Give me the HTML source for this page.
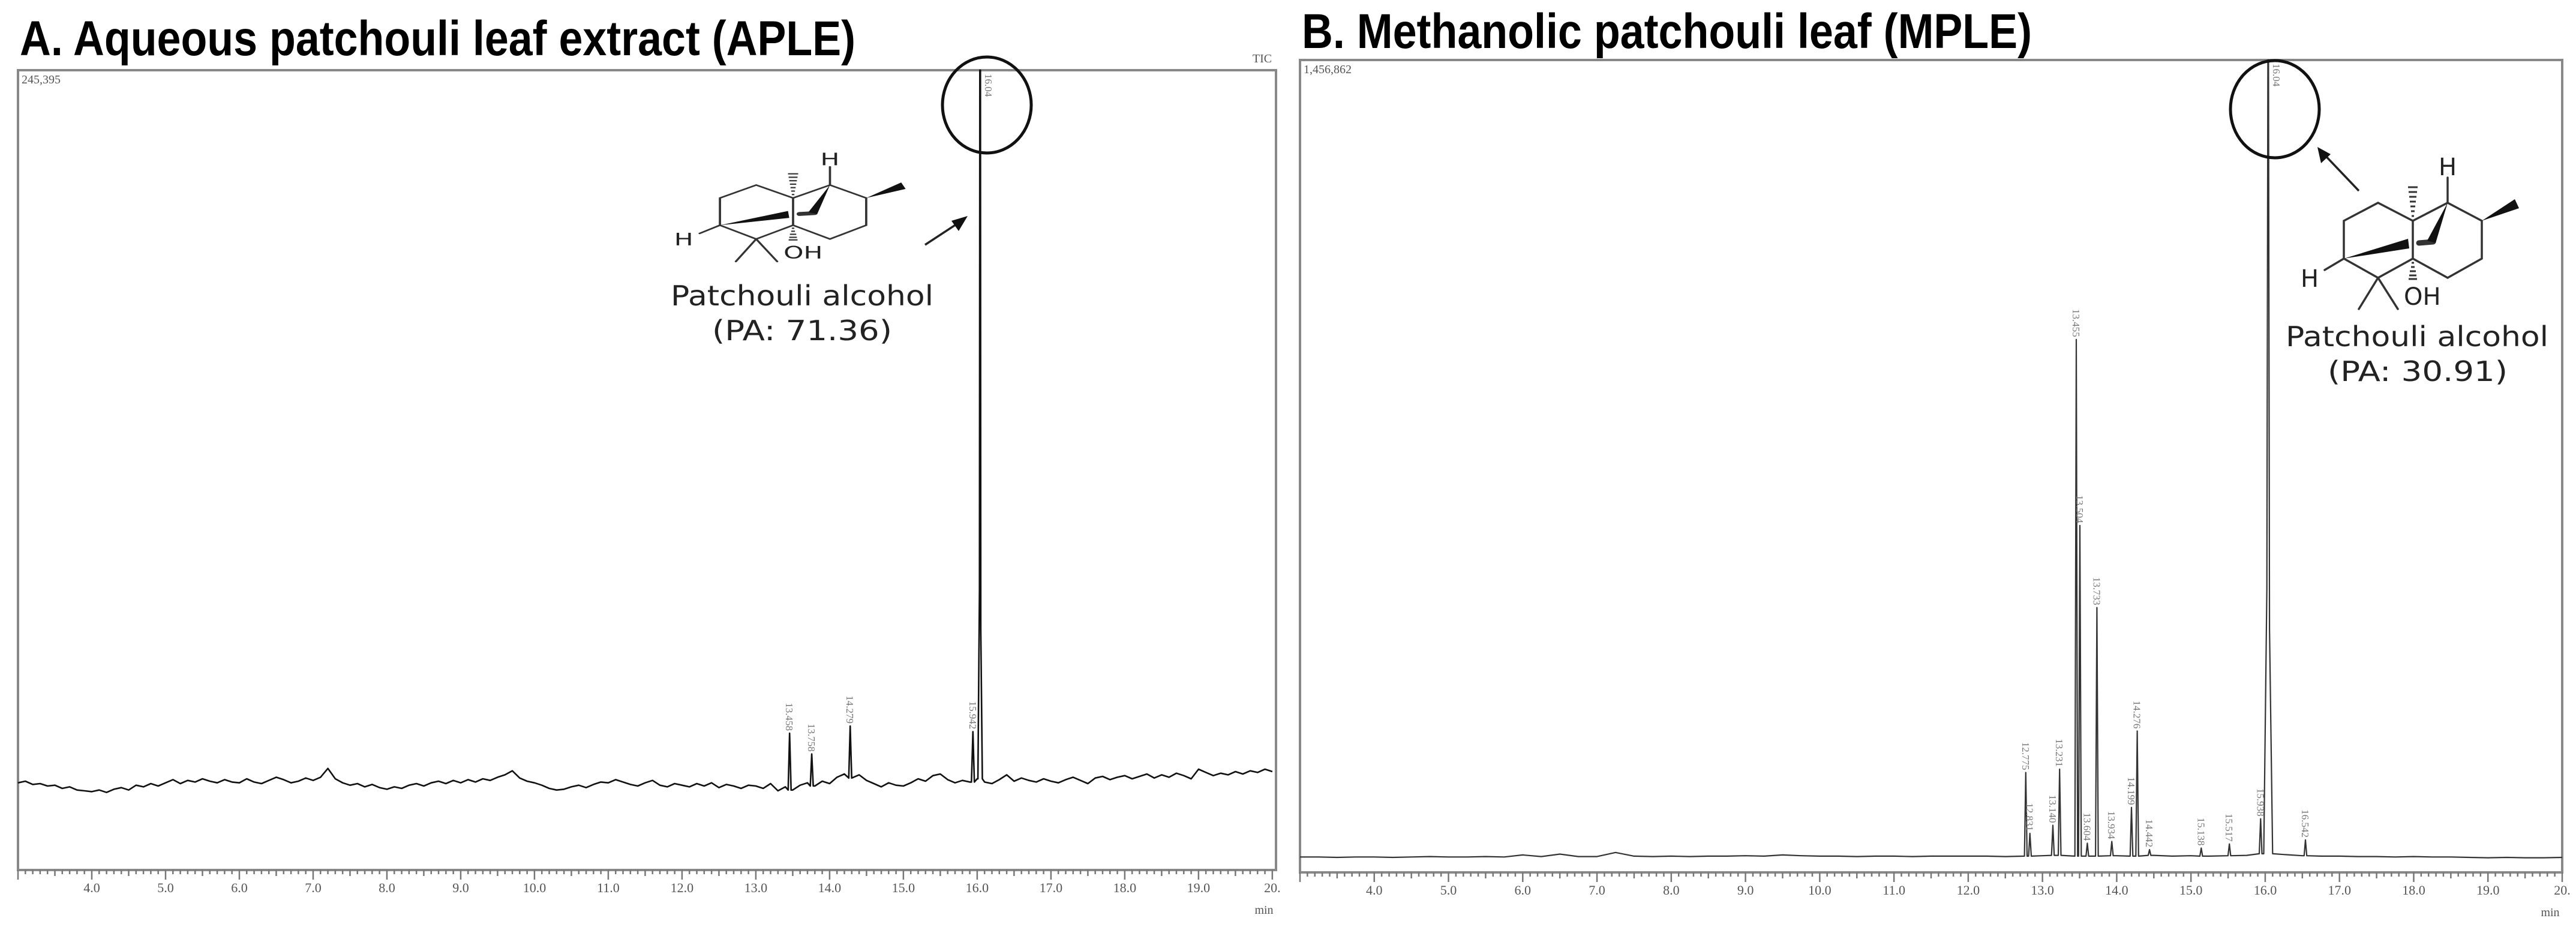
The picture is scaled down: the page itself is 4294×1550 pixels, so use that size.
<!DOCTYPE html>
<html><head><meta charset="utf-8"><style>
html,body{margin:0;padding:0;background:#fff;}
svg{display:block;}
</style></head><body>
<svg id="fig" width="4294" height="1550" viewBox="0 0 4294 1550" xmlns="http://www.w3.org/2000/svg">
<defs>
<g id="mol">
  <g stroke="#333" stroke-width="3.5" fill="none" stroke-linecap="round">
    <polyline points="0,0 -58,-30 -115,0 -115,63 -58,95 0,63 0,0"/>
    <polyline points="0,0 58,-30 115,0 115,63 58,95 0,63"/>
    <line x1="58" y1="-30" x2="58" y2="-72"/>
    <line x1="-58" y1="95" x2="-90" y2="147"/>
    <line x1="-58" y1="95" x2="-25" y2="147"/>
    <line x1="-115" y1="63" x2="-147" y2="82"/>
    <line x1="10" y1="37" x2="34" y2="35" stroke-width="9"/>
  </g>
  <g fill="#111">
    <polygon points="115,0 170,-36 177,-21"/>
    <polygon points="-115,63 -8,30 -6,46"/>
    <polygon points="58,-30 24,33 38,37"/>
  </g>
  <g stroke="#333" stroke-width="3">
    <line x1="-2" y1="-8" x2="2" y2="-8"/><line x1="-3" y1="-16" x2="3" y2="-16"/>
    <line x1="-4" y1="-24" x2="4" y2="-24"/><line x1="-5" y1="-32" x2="5" y2="-32"/>
    <line x1="-6" y1="-40" x2="6" y2="-40"/><line x1="-7" y1="-48" x2="7" y2="-48"/>
    <line x1="-8" y1="-56" x2="8" y2="-56"/>
    <line x1="-2" y1="70" x2="2" y2="70"/><line x1="-3" y1="77" x2="3" y2="77"/>
    <line x1="-5" y1="84" x2="5" y2="84"/><line x1="-6" y1="91" x2="6" y2="91"/>
    <line x1="-7" y1="97" x2="7" y2="97"/>
  </g>
  <g font-family="'DejaVu Sans', sans-serif" font-size="40" fill="#222">
    <text x="58" y="-76" text-anchor="middle">H</text>
    <text x="-172" y="110" text-anchor="middle">H</text>
    <text x="-15" y="140">OH</text>
  </g>
</g>
</defs>

<!-- Titles -->
<text x="33" y="92" font-family="'Liberation Sans', sans-serif" font-weight="bold" font-size="82" textLength="1393" lengthAdjust="spacingAndGlyphs">A. Aqueous patchouli leaf extract (APLE)</text>
<text x="2170" y="80" font-family="'Liberation Sans', sans-serif" font-weight="bold" font-size="82" textLength="1217" lengthAdjust="spacingAndGlyphs">B. Methanolic patchouli leaf (MPLE)</text>

<g id="panelA"></g>
<g id="panelB"></g>

<!-- Panel A annotations -->
<text x="2104" y="104" font-family="'Liberation Serif', serif" font-size="20" fill="#555" text-anchor="middle">TIC</text>
<use href="#mol" transform="translate(1322,330) scale(1.06,0.72)"/>
<text x="1337" y="509" font-family="'DejaVu Sans', sans-serif" font-size="46" fill="#222" text-anchor="middle" textLength="438" lengthAdjust="spacingAndGlyphs">Patchouli alcohol</text>
<text x="1337" y="567" font-family="'DejaVu Sans', sans-serif" font-size="46" fill="#222" text-anchor="middle" textLength="300" lengthAdjust="spacingAndGlyphs">(PA: 71.36)</text>
<g>
  <line x1="1542" y1="408" x2="1600" y2="370" stroke="#222" stroke-width="3.5"/>
  <polygon points="1613,360 1586,368 1598,385" fill="#111"/>
</g>
<ellipse cx="1645" cy="175" rx="74" ry="80" fill="none" stroke="#111" stroke-width="5"/>

<!-- Panel B annotations -->
<use href="#mol" transform="translate(4022,368)"/>
<text x="4029" y="577" font-family="'DejaVu Sans', sans-serif" font-size="46" fill="#222" text-anchor="middle" textLength="438" lengthAdjust="spacingAndGlyphs">Patchouli alcohol</text>
<text x="4030" y="635" font-family="'DejaVu Sans', sans-serif" font-size="46" fill="#222" text-anchor="middle" textLength="300" lengthAdjust="spacingAndGlyphs">(PA: 30.91)</text>
<g>
  <line x1="3932" y1="318" x2="3872" y2="255" stroke="#222" stroke-width="3.5"/>
  <polygon points="3863,245 3869,272 3885,257" fill="#111"/>
</g>
<ellipse cx="3792" cy="182" rx="74" ry="81" fill="none" stroke="#111" stroke-width="5"/>
</svg>

<script>
// ---------- DATA ----------
const aBaseStart = 3.0;
const aBaseStep = 0.1;
const aBaseline = [
10.9,11.1,10.7,10.8,10.5,10.6,10.2,10.4,10.0,9.9,
9.8,10.0,9.7,10.1,10.3,10.0,10.6,10.4,10.8,10.5,
10.9,11.3,10.8,11.2,11.0,11.4,11.1,10.9,11.3,11.0,
10.9,11.4,11.0,10.8,11.2,11.6,11.3,10.9,11.1,11.5,
11.2,11.6,12.7,11.4,10.9,10.6,10.8,10.4,10.7,10.3,
10.1,10.4,10.2,10.6,10.8,10.5,10.9,11.1,10.8,11.2,
10.9,11.3,11.0,11.4,11.2,11.6,11.9,12.4,11.5,11.1,
10.9,10.6,10.2,10.0,10.1,10.4,10.6,10.3,10.7,11.0,
10.9,11.3,11.0,10.7,10.5,10.9,11.2,10.6,10.4,10.8,
10.6,10.4,10.8,10.5,10.9,10.3,10.7,10.5,10.2,10.6,
10.5,10.2,10.8,9.9,10.4,10.0,10.6,10.9,10.5,11.1,
10.8,11.6,12.0,11.5,11.9,11.2,10.8,10.4,10.9,10.6,
10.5,10.9,11.4,11.1,11.8,12.0,11.3,10.9,11.2,11.0,
11.4,11.0,10.8,11.3,11.9,11.1,11.5,11.2,11.0,11.4,
11.1,10.9,11.3,11.6,11.2,10.8,11.5,11.7,11.3,11.6,
11.8,11.4,11.7,12.0,11.5,11.9,11.6,12.1,11.8,11.4,
12.6,12.2,11.8,12.1,11.9,12.3,12.0,12.4,12.2,12.6,
12.3];
const aPeakTimes = [13.458, 13.758, 14.279, 15.942, 16.04];
const aPeakHeights = [17.1, 14.5, 18.0, 17.3, 100];
const aPeakLabels = ["13.458", "13.758", "14.279", "15.942", "16.04"];

const bBaseStart = 3.0;
const bBaseStep = 0.25;
const bBaseline = [
1.9,1.9,1.85,1.9,1.9,1.85,1.9,1.95,1.9,1.9,1.95,1.9,2.15,1.95,2.25,1.95,
1.95,2.45,2.0,1.95,2.0,1.95,2.0,2.0,2.05,2.0,2.15,2.05,2.0,2.0,1.95,2.0,
2.0,1.95,2.0,2.0,2.0,2.0,1.95,2.0,2.05,2.1,2.0,2.0,2.05,2.0,2.1,2.0,
2.05,2.0,2.05,2.1,2.3,2.2,2.05,2.0,2.0,1.95,1.95,1.9,1.95,1.9,1.9,1.85,
1.8,1.85,1.8,1.8,1.85];
const bPeakTimes = [12.775,12.831,13.140,13.231,13.455,13.504,13.604,13.733,13.934,14.199,14.276,14.442,15.138,15.517,15.938,16.04,16.542];
const bPeakHeights = [12.3,4.8,5.8,12.7,65.6,42.7,3.6,32.6,3.8,8.0,17.4,2.8,3.0,3.5,6.6,100,4.0];
const bPeakLabels = ["12.775","12.831","13.140","13.231","13.455","13.504","13.604","13.733","13.934","14.199","14.276","14.442","15.138","15.517","15.938","16.04","16.542"];

const xTickLabels = ["4.0","5.0","6.0","7.0","8.0","9.0","10.0","11.0","12.0","13.0","14.0","15.0","16.0","17.0","18.0","19.0","20."];
const xTickValues = [4,5,6,7,8,9,10,11,12,13,14,15,16,17,18,19,20];

// ---------- DRAW ----------
const NS = "http://www.w3.org/2000/svg";
function mk(tag, attrs, parent){
  const e = document.createElementNS(NS, tag);
  for (const k in attrs) e.setAttribute(k, attrs[k]);
  parent.appendChild(e);
  return e;
}

function drawPanel(g, cfg){
  const {L,R,T,B,x0,x1,base,bStart,bStep,pT,pH,pL,yMaxLabel,lineColor,lineW,halfW,wideIdx,wideW,prefix} = cfg;
  const xs = t => L + (t - x0) / (x1 - x0) * (R - L);
  const ys = v => B - v / 100 * (B - T);

  const frame = mk("rect", {x:L, y:T, width:R-L, height:B-T, fill:"none", stroke:"#888", "stroke-width":4}, g);
  
  

  const tickG = mk("g", {stroke:"#777", "stroke-width":2.5}, g);
  
  
  for (let i = Math.ceil(x0*10); i <= Math.floor(x1*10); i++){
    const t = i/10, x = xs(t);
    const len = (i % 10 === 0) ? 16 : (i % 5 === 0 ? 10 : 7);
    mk("line", {x1:x, y1:B, x2:x, y2:B+len}, tickG);
  }
  for (let i = 0; i < xTickValues.length; i++){
    const tl = mk("text", {x:xs(xTickValues[i]), y:B+37, "text-anchor":"middle", "font-family":"'Liberation Serif', serif", "font-size":22, fill:"#555"}, g);
    tl.textContent = xTickLabels[i];
    
    
  }
  const mn = mk("text", {x:R-20, y:B+73, "text-anchor":"middle", "font-family":"'Liberation Serif', serif", "font-size":20, fill:"#555"}, g);
  mn.textContent = "min";
  
  
  const ym = mk("text", {x:L+6, y:T+22, "font-family":"'Liberation Serif', serif", "font-size":20, fill:"#555"}, g);
  ym.textContent = yMaxLabel;
  
  

  const pts = [];
  const widths = pT.map((t,i) => i === wideIdx ? wideW : halfW);
  base.forEach((v,i) => {
    const t = bStart + i*bStep;
    if (pT.some((p,j) => Math.abs(t - p) < widths[j])) return;
    pts.push([t, v]);
  });
  const baseAt = t => { const i = Math.max(0, Math.min(base.length-1, Math.round((t-bStart)/bStep))); return base[i]; };
  pT.forEach((p,j) => {
    const w = widths[j], bv = baseAt(p);
    if (j === wideIdx){
      pts.push([p-w, bv]); pts.push([p-w*0.3, pH[j]*0.35]); pts.push([p-0.004, pH[j]]);
      pts.push([p+0.004, pH[j]]); pts.push([p+w*0.3, pH[j]*0.3]); pts.push([p+w, bv]);
    } else {
      pts.push([p-w, bv]); pts.push([p, pH[j]]); pts.push([p+w, bv]);
    }
  });
  pts.sort((a,b) => a[0]-b[0]);
  const trace = mk("polyline", {points: pts.map(q => xs(q[0]).toFixed(1)+","+ys(q[1]).toFixed(1)).join(" "), fill:"none", stroke:lineColor, "stroke-width":lineW, "stroke-linejoin":"round"}, g);
  
  

  pT.forEach((p,j) => {
    const x = xs(p), y = ys(pH[j]);
    let lbl;
    if (pH[j] >= 99){
      lbl = mk("text", {x:0, y:0, transform:"translate("+(x+8)+","+(T+6)+") rotate(90)", "font-family":"'Liberation Serif', serif", "font-size":17, fill:"#777"}, g);
    } else {
      lbl = mk("text", {x:0, y:0, transform:"translate("+(x-6)+","+(y-4)+") rotate(90)", "text-anchor":"end", "font-family":"'Liberation Serif', serif", "font-size":17, fill:"#777"}, g);
    }
    lbl.textContent = pL[j];
    
    
  });
}

drawPanel(document.getElementById("panelA"), {
  L:30, R:2127, T:117, B:1450, x0:3.0, x1:20.05,
  base:aBaseline, bStart:aBaseStart, bStep:aBaseStep,
  pT:aPeakTimes, pH:aPeakHeights, pL:aPeakLabels,
  yMaxLabel:"245,395", lineColor:"#111", lineW:2.6, halfW:0.02, wideIdx:4, wideW:0.03, prefix:"panel-a"
});
drawPanel(document.getElementById("panelB"), {
  L:2167, R:4271, T:100, B:1454, x0:3.0, x1:20.0,
  base:bBaseline, bStart:bBaseStart, bStep:bBaseStep,
  pT:bPeakTimes, pH:bPeakHeights, pL:bPeakLabels,
  yMaxLabel:"1,456,862", lineColor:"#333", lineW:2.2, halfW:0.018, wideIdx:15, wideW:0.06, prefix:"panel-b"
});
</script>
</body></html>
